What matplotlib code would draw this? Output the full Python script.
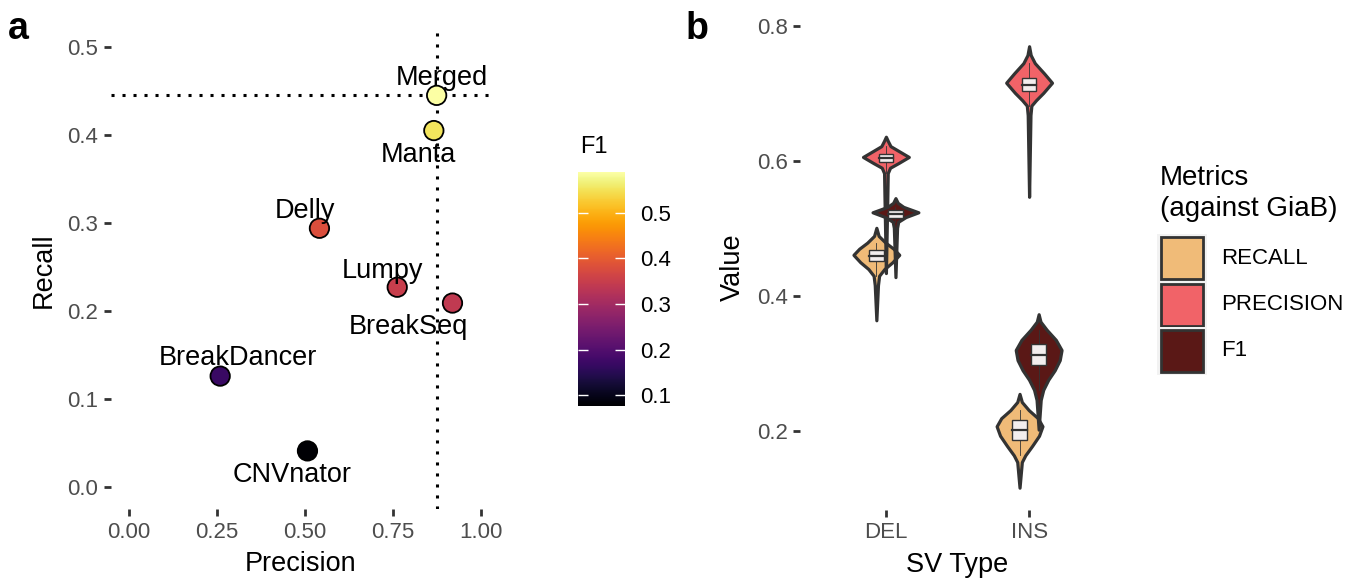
import matplotlib
matplotlib.use('Agg')
import matplotlib.pyplot as plt
import numpy as np
from matplotlib import cm, colors
from matplotlib.patches import Rectangle

plt.rcParams['font.family'] = ['Liberation Sans', 'DejaVu Sans']

W, H = 1368, 581

# --- panel a: callers, precision / recall / F1 ---
tools = ['Merged', 'Manta', 'Delly', 'Lumpy', 'BreakSeq', 'BreakDancer', 'CNVnator']
precision = [0.874, 0.866, 0.541, 0.762, 0.919, 0.259, 0.507]
recall = [0.445, 0.405, 0.294, 0.227, 0.209, 0.126, 0.041]
f1 = [0.590, 0.552, 0.381, 0.350, 0.341, 0.170, 0.076]
f1_ticks = [0.1, 0.2, 0.3, 0.4, 0.5]

# --- panel b: violin profiles (value, relative width) ---
sv_types = ['DEL', 'INS']
metrics = ['RECALL', 'PRECISION', 'F1']
metric_colors = ['#F0BB78', '#F16368', '#5A1816']

del_recall_y = [0.501, 0.489, 0.479, 0.470, 0.461, 0.450, 0.440, 0.430, 0.416, 0.364]
del_recall_w = [0.0, 0.10, 0.40, 0.75, 1.0, 0.70, 0.35, 0.12, 0.07, 0.0]
del_prec_y = [0.636, 0.630, 0.622, 0.615, 0.606, 0.597, 0.590, 0.582, 0.542, 0.434]
del_prec_w = [0.0, 0.08, 0.20, 0.55, 1.0, 0.55, 0.18, 0.08, 0.06, 0.0]
del_f1_y = [0.545, 0.538, 0.532, 0.524, 0.517, 0.510, 0.501, 0.428]
del_f1_w = [0.0, 0.10, 0.35, 1.0, 0.45, 0.12, 0.07, 0.0]

ins_recall_y = [0.255, 0.243, 0.231, 0.219, 0.207, 0.193, 0.178, 0.164, 0.154, 0.116]
ins_recall_w = [0.0, 0.10, 0.40, 0.80, 1.0, 0.85, 0.55, 0.25, 0.10, 0.0]
ins_prec_y = [0.770, 0.757, 0.745, 0.730, 0.716, 0.701, 0.690, 0.682, 0.668, 0.547]
ins_prec_w = [0.0, 0.07, 0.25, 0.65, 1.0, 0.62, 0.30, 0.10, 0.06, 0.0]
ins_f1_y = [0.373, 0.362, 0.350, 0.335, 0.320, 0.305, 0.290, 0.276, 0.261, 0.246, 0.202]
ins_f1_w = [0.0, 0.08, 0.35, 0.75, 1.0, 0.92, 0.70, 0.42, 0.20, 0.09, 0.0]

# box stats (q1, median, q3), order RECALL, PRECISION, F1
del_box = [(0.452, 0.460, 0.468), (0.598, 0.604, 0.610), (0.516, 0.521, 0.527)]
ins_box = [(0.187, 0.201, 0.216), (0.704, 0.713, 0.723), (0.298, 0.313, 0.329)]

profiles = {
    ('DEL', 'RECALL'): (del_recall_y, del_recall_w),
    ('DEL', 'PRECISION'): (del_prec_y, del_prec_w),
    ('DEL', 'F1'): (del_f1_y, del_f1_w),
    ('INS', 'RECALL'): (ins_recall_y, ins_recall_w),
    ('INS', 'PRECISION'): (ins_prec_y, ins_prec_w),
    ('INS', 'F1'): (ins_f1_y, ins_f1_w),
}
boxes = {'DEL': del_box, 'INS': ins_box}


def fig_rect(left, top, right, bottom):
    # pixel box -> figure fraction
    return [left / W, 1 - bottom / H, (right - left) / W, (bottom - top) / H]


fig = plt.figure(figsize=(W / 100, H / 100), dpi=100)
tick_col = '#4D4D4D'
line_col = '#333333'

# ---------------- panel a ----------------
ax = fig.add_axes(fig_rect(111, 32, 491, 509))
cmap = plt.get_cmap('inferno')
norm = colors.Normalize(vmin=min(f1), vmax=max(f1))

ax.axvline(precision[0], color='black', lw=2.2, ls=(0, (1, 2.6)), zorder=1)
ax.axhline(recall[0], color='black', lw=2.2, ls=(0, (1, 2.6)), zorder=1)
ax.scatter(precision, recall, c=f1, cmap=cmap, norm=norm, s=195,
           edgecolors='black', linewidths=1.3, zorder=3)

label_pos = {
    'Merged': (0.889, 0.457), 'Manta': (0.822, 0.369), 'Delly': (0.499, 0.306),
    'Lumpy': (0.720, 0.2375), 'BreakSeq': (0.793, 0.174),
    'BreakDancer': (0.310, 0.139), 'CNVnator': (0.464, 0.0057),
}
for t in tools:
    lx, ly = label_pos[t]
    ax.text(lx, ly, t, ha='center', va='baseline', fontsize=19.5, color='black', zorder=4)
# short repel segments
ax.plot([0.557, 0.549], [0.302, 0.296], color='black', lw=1.2, zorder=2)
ax.plot([0.761, 0.761], [0.2386, 0.231], color='black', lw=1.2, zorder=2)

ax.set_xlim(-18 / 352, 1 + 10 / 352)
ax.set_ylim(-0.025, 0.517)
ax.set_xticks([0, 0.25, 0.5, 0.75, 1.0])
ax.set_xticklabels(['0.00', '0.25', '0.50', '0.75', '1.00'])
ax.set_yticks([0, 0.1, 0.2, 0.3, 0.4, 0.5])
ax.set_yticklabels(['0.0', '0.1', '0.2', '0.3', '0.4', '0.5'])
for s in ax.spines.values():
    s.set_visible(False)
ax.tick_params(length=5, width=2.0, color=line_col, labelcolor=tick_col,
               labelsize=16, pad=4)
ax.set_xlabel('Precision', fontsize=19.5, labelpad=6)
ax.set_ylabel('Recall', fontsize=19.5, labelpad=8)

# colorbar
cax = fig.add_axes(fig_rect(578, 172, 625, 406))
sm = cm.ScalarMappable(norm=norm, cmap=cmap)
cb = fig.colorbar(sm, cax=cax, ticks=f1_ticks)
cb.outline.set_visible(False)
cax.set_yticklabels([f'{v:.1f}' for v in f1_ticks])
cax.tick_params(direction='in', left=True, right=True, labelleft=False, labelright=True,
                length=7, width=1, color='white', labelcolor='black', labelsize=16, pad=11)
fig.text(580 / W, 1 - 153 / H, 'F1', fontsize=17, ha='left', va='baseline')

# ---------------- panel b ----------------
bx = fig.add_axes(fig_rect(800, 24, 1115, 510))
half_w = 0.16
dodge = [-0.0667, 0.0, 0.0667]
box_w = 0.1
for i, sv in enumerate(sv_types):
    for j, m in enumerate(metrics):
        yv, wv = profiles[(sv, m)]
        xc = i + 1 + dodge[j]
        wv = np.array(wv) * half_w
        bx.fill_betweenx(yv, xc - wv, xc + wv, facecolor=metric_colors[j],
                         edgecolor=line_col, lw=2.3, joinstyle='round', zorder=2 + j)
for i, sv in enumerate(sv_types):
    for j, m in enumerate(metrics):
        yv, wv = profiles[(sv, m)]
        xc = i + 1 + dodge[j]
        q1, med, q3 = boxes[sv][j]
        bx.plot([xc, xc], [yv[2], yv[-3]], color=line_col, lw=0.6, zorder=6)
        bx.add_patch(Rectangle((xc - box_w / 2, q1), box_w, q3 - q1, facecolor='#F3EEEE',
                               edgecolor=line_col, lw=1.0, zorder=7))
        bx.plot([xc - box_w / 2, xc + box_w / 2], [med, med], color=line_col, lw=1.6, zorder=8)

bx.set_xlim(0.4, 2.6)
bx.set_ylim(0.8 - 486 / 675 + 2 / 675, 0.8 + 2 / 675)
bx.set_xticks([1, 2])
bx.set_xticklabels(sv_types)
bx.set_yticks([0.2, 0.4, 0.6, 0.8])
bx.set_yticklabels(['0.2', '0.4', '0.6', '0.8'])
for s in bx.spines.values():
    s.set_visible(False)
bx.tick_params(length=5, width=2.0, color=line_col, labelcolor=tick_col,
               labelsize=16, pad=4)
bx.set_xlabel('SV Type', fontsize=19.5, labelpad=6)
bx.set_ylabel('Value', fontsize=19.5, labelpad=8)

# legend (drawn in pixel space)
ov = fig.add_axes([0, 0, 1, 1])
ov.set_xlim(0, W)
ov.set_ylim(H, 0)
ov.axis('off')
ov.text(1160, 185, 'Metrics', fontsize=20, ha='left', va='baseline')
ov.text(1160, 216, '(against GiaB)', fontsize=20, ha='left', va='baseline')
key_tops = [236, 283, 329]
for j, m in enumerate(metrics):
    ov.add_patch(Rectangle((1157, key_tops[j] - 2), 50, 48, facecolor='#F2F2F2',
                           edgecolor='none'))
    ov.add_patch(Rectangle((1161, key_tops[j] + 1), 42, 42, facecolor=metric_colors[j],
                           edgecolor=line_col, lw=2.0))
    ov.text(1221, key_tops[j] + 22, m, fontsize=16, ha='left', va='center')

# panel tags
fig.text(8 / W, 1 - 39 / H, 'a', fontsize=27, fontweight='bold', ha='left', va='baseline')
fig.text(686 / W, 1 - 39 / H, 'b', fontsize=27, fontweight='bold', ha='left', va='baseline')

fig.savefig('out.png', dpi=100)
plt.close(fig)
